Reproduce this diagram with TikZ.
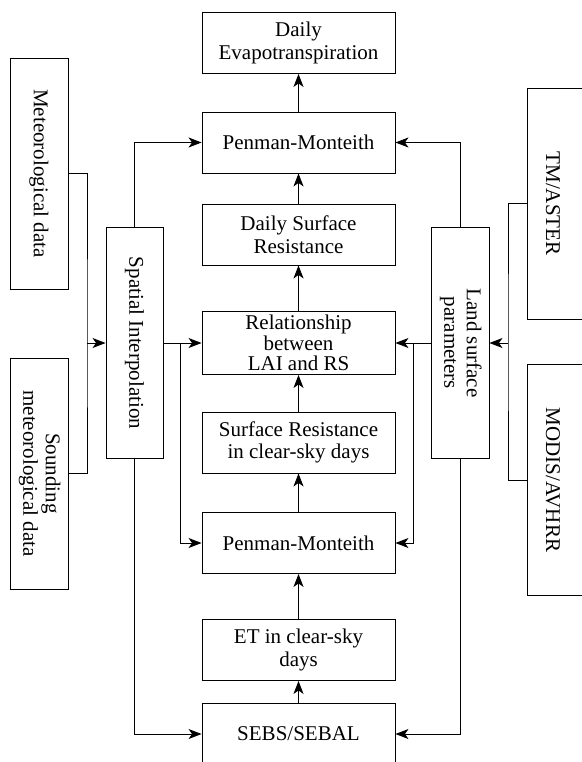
\documentclass[tikz,border=0pt]{standalone}
\usepackage{fontspec}
\setmainfont{Liberation Serif}
\usetikzlibrary{arrows.meta}
\begin{document}
\begin{tikzpicture}[x=1pt,y=-1pt,
  box/.style={draw, line width=0.9pt, minimum width=193pt, minimum height=61pt, inner sep=0pt, align=center, font=\fontsize{21}{22.5}\selectfont},
  vbox/.style={draw, line width=0.9pt, minimum width=58pt, minimum height=231pt, inner sep=0pt, font=\fontsize{21}{22.5}\selectfont},
  arr/.style={line width=0.9pt, -{Stealth[length=13pt,width=10pt,inset=3.5pt]}},
  ln/.style={line width=0.9pt}]
\useasboundingbox (0,0) rectangle (581,762);
% centre column
\node[box] (det) at (298.5,43) {Daily\\Evapotranspiration};
\node[box] (pm1) at (298.5,142.5) {Penman-Monteith};
\node[box] (dsr) at (298.5,234.5) {Daily Surface\\Resistance};
\node[box, minimum height=63pt, font=\fontsize{21}{20.5}\selectfont] (rel) at (298.5,343) {Relationship\\between\\LAI and RS};
\node[box] (sr) at (298.5,442.5) {Surface Resistance\\in clear-sky days};
\node[box] (pm2) at (298.5,543) {Penman-Monteith};
\node[box] (et) at (298.5,650) {ET in clear-sky\\days};
\node[box] (sebs) at (298.5,734) {SEBS/SEBAL};
% left side
\node[vbox] (met) at (39,173.5) {\rotatebox{-90}{Meteorological data}};
\node[vbox] (snd) at (39,473.5) {\rotatebox{-90}{\begin{tabular}{@{}c@{}}Sounding\\meteorological data\end{tabular}}};
\node[vbox, minimum width=57pt] (si) at (134.5,343) {\rotatebox{-90}{Spatial Interpolation}};
% right side
\node[vbox] (lsp) at (460,343) {\rotatebox{-90}{\begin{tabular}{@{}c@{}}Land surface\\parameters\end{tabular}}};
\node[vbox, minimum width=60pt] (tm) at (557,203.5) {\rotatebox{-90}{TM/ASTER}\hspace*{8pt}};
\node[vbox, minimum width=60pt] (mod) at (557,480) {\rotatebox{-90}{MODIS/AVHRR}\hspace*{8pt}};
% centre arrows
\draw[arr] (pm1.north) -- (det.south);
\draw[arr] (dsr.north) -- (pm1.south);
\draw[arr] (rel.north) -- (dsr.south);
\draw[arr] (sr.north) -- (rel.south);
\draw[arr] (pm2.north) -- (sr.south);
\draw[arr] (et.north) -- (pm2.south);
\draw[arr] (sebs.north) -- (et.south);
% left connectors
\coordinate (lbus) at (87,343);
\coordinate (lj) at (180,343);
\draw[ln] (met.east) -| (lbus) |- (snd.east);
\draw[arr] (lbus) -- (si.west);
\draw[arr] (si.north) |- (pm1.west);
\draw[arr] (si.east) -- (rel.west);
\draw[arr] (lj) |- (pm2.west);
\draw[arr] (si.south) |- (sebs.west);
% right connectors
\coordinate (rbus) at (508,343);
\coordinate (rj) at (413,343);
\draw[ln] (tm.west) -| (rbus) |- (mod.west);
\draw[arr] (rbus) -- (lsp.east);
\draw[arr] (lsp.north) |- (pm1.east);
\draw[arr] (lsp.west) -- (rel.east);
\draw[arr] (rj) |- (pm2.east);
\draw[arr] (lsp.south) |- (sebs.east);
\end{tikzpicture}
\end{document}
